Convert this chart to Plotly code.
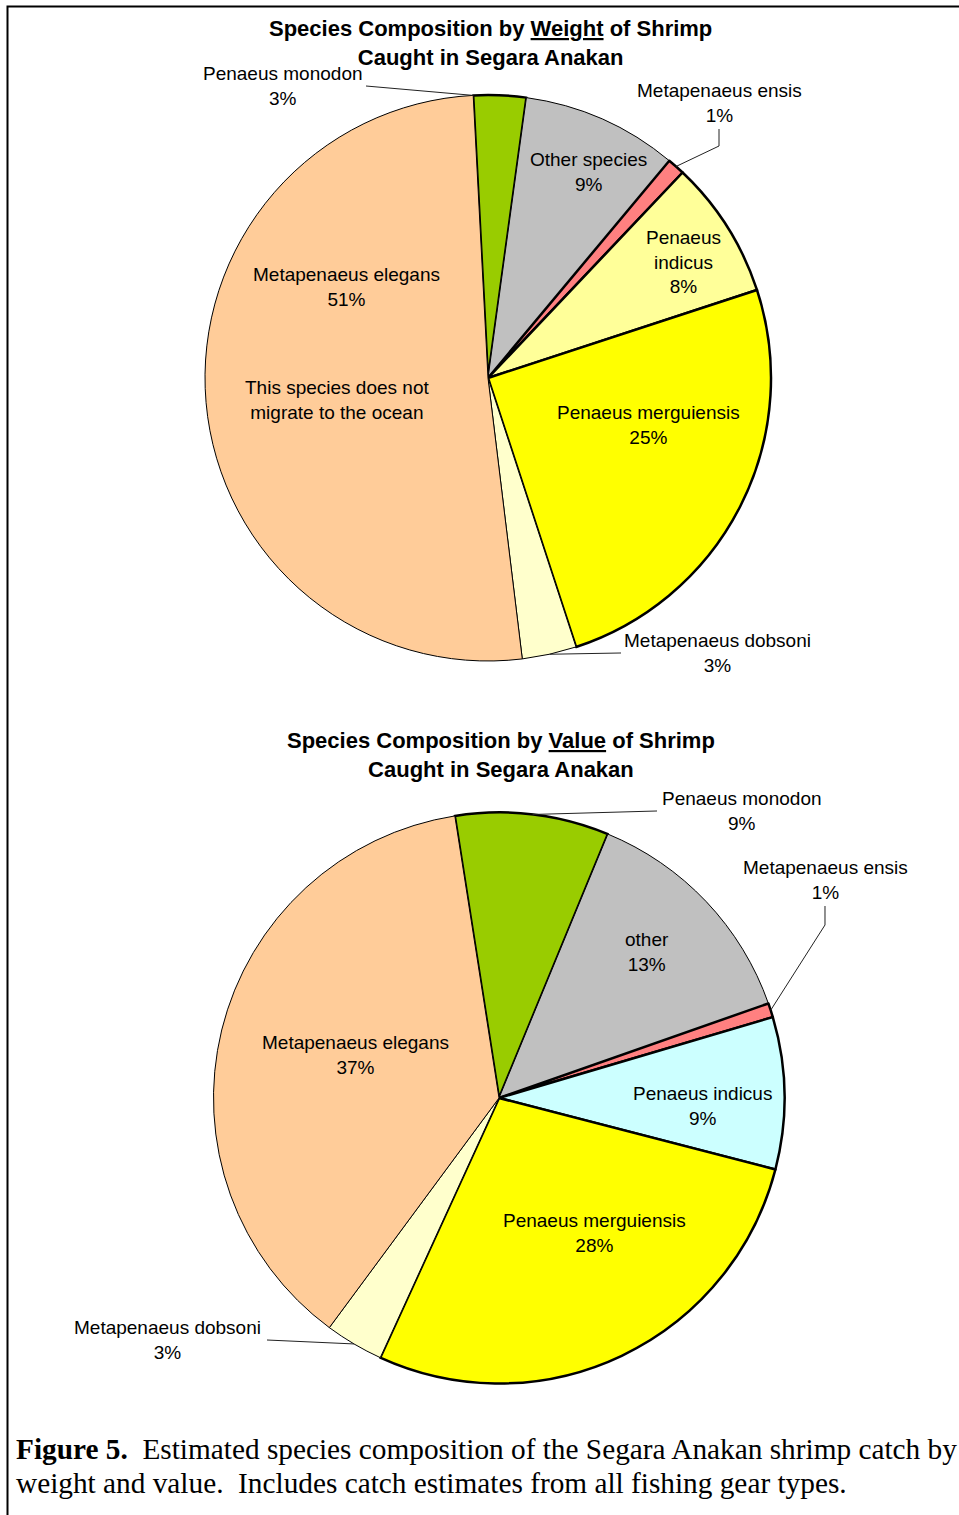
import math
import plotly.graph_objects as go

W, H = 959, 1515

# ---------------- data ----------------
species = ["Penaeus monodon", "Other species", "Metapenaeus ensis", "Penaeus indicus",
           "Penaeus merguiensis", "Metapenaeus dobsoni", "Metapenaeus elegans"]
weight_pct = [3.0, 8.9, 1.0, 7.9, 25.0, 3.1, 51.1]
value_pct = [8.7, 13.4, 0.8, 8.6, 27.8, 3.3, 37.4]

weight_labels = ["Penaeus monodon", "Other species", "Metapenaeus ensis", "Penaeus<br>indicus",
                 "Penaeus merguiensis", "Metapenaeus dobsoni", "Metapenaeus elegans"]
value_labels = ["Penaeus monodon", "other", "Metapenaeus ensis", "Penaeus indicus",
                "Penaeus merguiensis", "Metapenaeus dobsoni", "Metapenaeus elegans"]

weight_colors = ["#99CC00", "#C0C0C0", "#FF8080", "#FFFF99", "#FFFF00", "#FFFFCC", "#FFCC99"]
value_colors = ["#99CC00", "#C0C0C0", "#FF8080", "#CCFFFF", "#FFFF00", "#FFFFCC", "#FFCC99"]
edge_widths = [2.5, 1, 2.5, 2.5, 2.5, 1, 1]

title_weight = "<b>Species Composition by <u>Weight</u> of Shrimp<br>Caught in Segara Anakan</b>"
title_value = "<b>Species Composition by <u>Value</u> of Shrimp<br>Caught in Segara Anakan</b>"
note_text = "This species does not<br>migrate to the ocean"
caption_1 = "<b>Figure 5.</b>\u00a0 Estimated species composition of the Segara Anakan shrimp catch by"
caption_2 = "weight and value.\u00a0 Includes catch estimates from all fishing gear types."

# ---------------- layout helpers ----------------
SANS = "Arial, Liberation Sans, sans-serif"
SERIF = "Times New Roman, Liberation Serif, serif"


def fx(px):
    return px / W


def fy(py):
    return 1 - py / H


pies = [
    dict(vals=weight_pct, labels=weight_labels, colors=weight_colors,
         cx=488, cy=378, r=283, start=-3.0,
         title=title_weight, title_pos=(490, 43),
         label_pos=[(283, 86), (588, 172), (719, 103), (683, 262),
                    (648, 425), (717, 653), (346, 287)],
         leaders={0: ([(366, 86)], 0.0),
                  2: ([(719, 129), (719, 146)], 0.5),
                  5: ([(621, 653)], 0.5)}),
    dict(vals=value_pct, labels=value_labels, colors=value_colors,
         cx=499, cy=1098, r=285.5, start=-8.9,
         title=title_value, title_pos=(501, 755),
         label_pos=[(742, 811), (647, 952), (825, 880), (702, 1106),
                    (594, 1233), (167, 1340), (355, 1055)],
         leaders={0: ([(657, 811)], 0.5),
                  2: ([(825, 906), (825, 925)], 0.5),
                  5: ([(267, 1340)], 0.5)}),
]


def arc_point(p, idx, frac):
    vals = p["vals"]
    tot = sum(vals)
    ang = p["start"] + 360.0 * (sum(vals[:idx]) + frac * vals[idx]) / tot
    a = math.radians(ang)
    return p["cx"] + p["r"] * math.sin(a), p["cy"] - p["r"] * math.cos(a)


fig = go.Figure()
annotations = []
shapes = []

for p in pies:
    cx, cy, r = p["cx"], p["cy"], p["r"]
    fig.add_trace(go.Pie(
        labels=species,
        values=p["vals"],
        sort=False,
        direction="clockwise",
        rotation=p["start"],
        marker=dict(colors=p["colors"], line=dict(color="black", width=edge_widths)),
        textinfo="none",
        hoverinfo="label+percent",
        showlegend=False,
        domain=dict(x=[fx(cx - r), fx(cx + r)], y=[fy(cy + r), fy(cy - r)]),
    ))
    # title
    tx, ty = p["title_pos"]
    annotations.append(dict(x=fx(tx), y=fy(ty), xref="paper", yref="paper",
                            text=p["title"], showarrow=False, xanchor="center",
                            yanchor="middle", font=dict(family=SANS, size=22, color="black")))
    # slice labels
    for i, (lab, v) in enumerate(zip(p["labels"], p["vals"])):
        lx, ly = p["label_pos"][i]
        annotations.append(dict(x=fx(lx), y=fy(ly), xref="paper", yref="paper",
                                text=f"{lab}<br>{round(v)}%", showarrow=False,
                                xanchor="center", yanchor="middle",
                                font=dict(family=SANS, size=19, color="black")))
    # leader lines
    for idx, (pts, frac) in p["leaders"].items():
        ex, ey = arc_point(p, idx, frac)
        allpts = pts + [(ex, ey)]
        path = "M " + " L ".join(f"{fx(x):.5f},{fy(y):.5f}" for x, y in allpts)
        shapes.append(dict(type="path", xref="paper", yref="paper", path=path,
                           line=dict(color="#222222", width=1)))

# note inside the elegans slice of the weight pie
annotations.append(dict(x=fx(337), y=fy(400), xref="paper", yref="paper",
                        text=note_text, showarrow=False, xanchor="center", yanchor="middle",
                        font=dict(family=SANS, size=19, color="black")))

# caption
annotations.append(dict(x=fx(14), y=fy(1449), xref="paper", yref="paper", text=caption_1,
                        showarrow=False, xanchor="left", yanchor="middle",
                        font=dict(family=SERIF, size=29.3, color="black")))
annotations.append(dict(x=fx(14), y=fy(1483), xref="paper", yref="paper", text=caption_2,
                        showarrow=False, xanchor="left", yanchor="middle",
                        font=dict(family=SERIF, size=29.3, color="black")))

# outer frame (top and left edges visible)
shapes.append(dict(type="rect", xref="paper", yref="paper",
                   x0=fx(7.5), y0=fy(6.5), x1=1.02, y1=-0.02,
                   line=dict(color="black", width=2)))

fig.update_layout(
    width=W, height=H,
    margin=dict(l=0, r=0, t=0, b=0),
    paper_bgcolor="white",
    plot_bgcolor="white",
    annotations=annotations,
    shapes=shapes,
)

fig.write_html("out.html",
               config={"displayModeBar": False},
               post_script="document.body.style.margin='0';document.body.style.overflow='hidden';")
